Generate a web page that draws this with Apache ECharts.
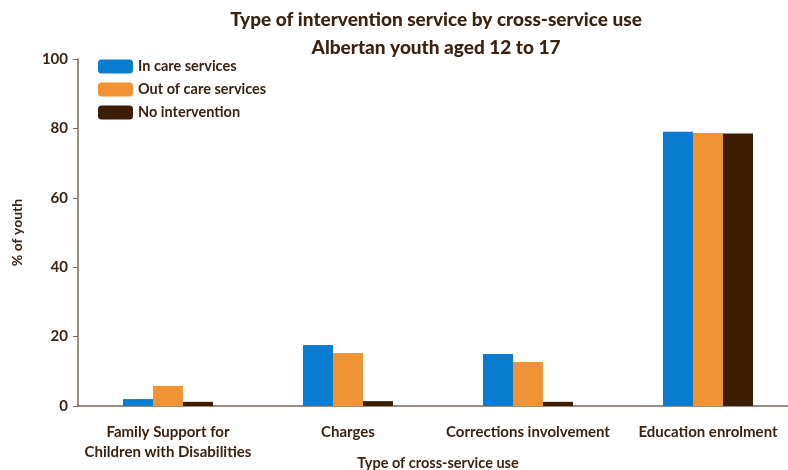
<!DOCTYPE html>
<html><head><meta charset="utf-8">
<script src="https://cdn.jsdelivr.net/npm/echarts@6/dist/echarts.min.js"></script>
<style>html,body{margin:0;padding:0;background:#fff}#c{width:788px;height:470px}</style>
</head><body><div id="c"></div>
<script>
const categories = ['Family Support for\nChildren with Disabilities', 'Charges', 'Corrections involvement', 'Education enrolment'];
const seriesNames = ['In care services', 'Out of care services', 'No intervention'];
const inCare = [2.0, 17.6, 15.0, 79.0];
const outOfCare = [5.8, 15.3, 12.7, 78.7];
const noIntervention = [1.2, 1.4, 1.2, 78.5];
const yTicks = [0, 20, 40, 60, 80, 100];

const FONT = 'Lato, "Open Sans", sans-serif';
const TXT = '#3b2314';
const AX = '#7a6858';
const colors = ['#0a7dd0', '#ef9334', '#3b1e02'];
const values = [inCare, outOfCare, noIntervention];

const chart = echarts.init(document.getElementById('c'));
chart.setOption({
  animation: false,
  textStyle: {fontFamily: FONT},
  title: {
    text: 'Type of intervention service by cross-service use\nAlbertan youth aged 12 to 17',
    left: 431, top: 1, textAlign: 'center',
    textStyle: {fontFamily: FONT, fontSize: 19, fontWeight: 900, color: TXT, lineHeight: 28}
  },
  legend: {
    orient: 'vertical', left: 98, top: 59, padding: 0,
    itemWidth: 35, itemHeight: 14, itemGap: 8,
    data: seriesNames,
    textStyle: {fontFamily: FONT, fontSize: 14.5, fontWeight: 'bold', color: TXT}
  },
  grid: {left: 78, top: 59, width: 720, height: 347, containLabel: false, outerBoundsMode: 'none'},
  xAxis: {
    type: 'category', data: categories,
    name: 'Type of cross-service use', nameLocation: 'middle', nameGap: 50, nameMoveOverlap: false,
    nameTextStyle: {fontFamily: FONT, fontSize: 14.5, fontWeight: 'bold', color: TXT},
    axisLine: {lineStyle: {color: AX, width: 1.5}},
    axisTick: {alignWithLabel: true, length: 5, lineStyle: {color: AX}},
    axisLabel: {fontFamily: FONT, fontSize: 15, fontWeight: 'bold', color: TXT, margin: 16, lineHeight: 20, interval: 0}
  },
  yAxis: {
    type: 'value', min: yTicks[0], max: yTicks[yTicks.length - 1], interval: 20,
    name: '% of youth', nameLocation: 'middle', nameGap: 54, nameRotate: 90, nameMoveOverlap: false,
    nameTextStyle: {fontFamily: FONT, fontSize: 14, fontWeight: 'bold', color: TXT},
    splitLine: {show: false},
    axisLine: {show: true, lineStyle: {color: AX, width: 1.5}},
    axisTick: {show: true, length: 5, lineStyle: {color: AX}},
    axisLabel: {fontFamily: FONT, fontSize: 15, fontWeight: 'bold', color: TXT, margin: 10}
  },
  series: seriesNames.map((n, i) => ({
    name: n, type: 'bar', data: values[i], barWidth: 30, barGap: '0%',
    itemStyle: {color: colors[i]}
  }))
});
</script></body></html>
